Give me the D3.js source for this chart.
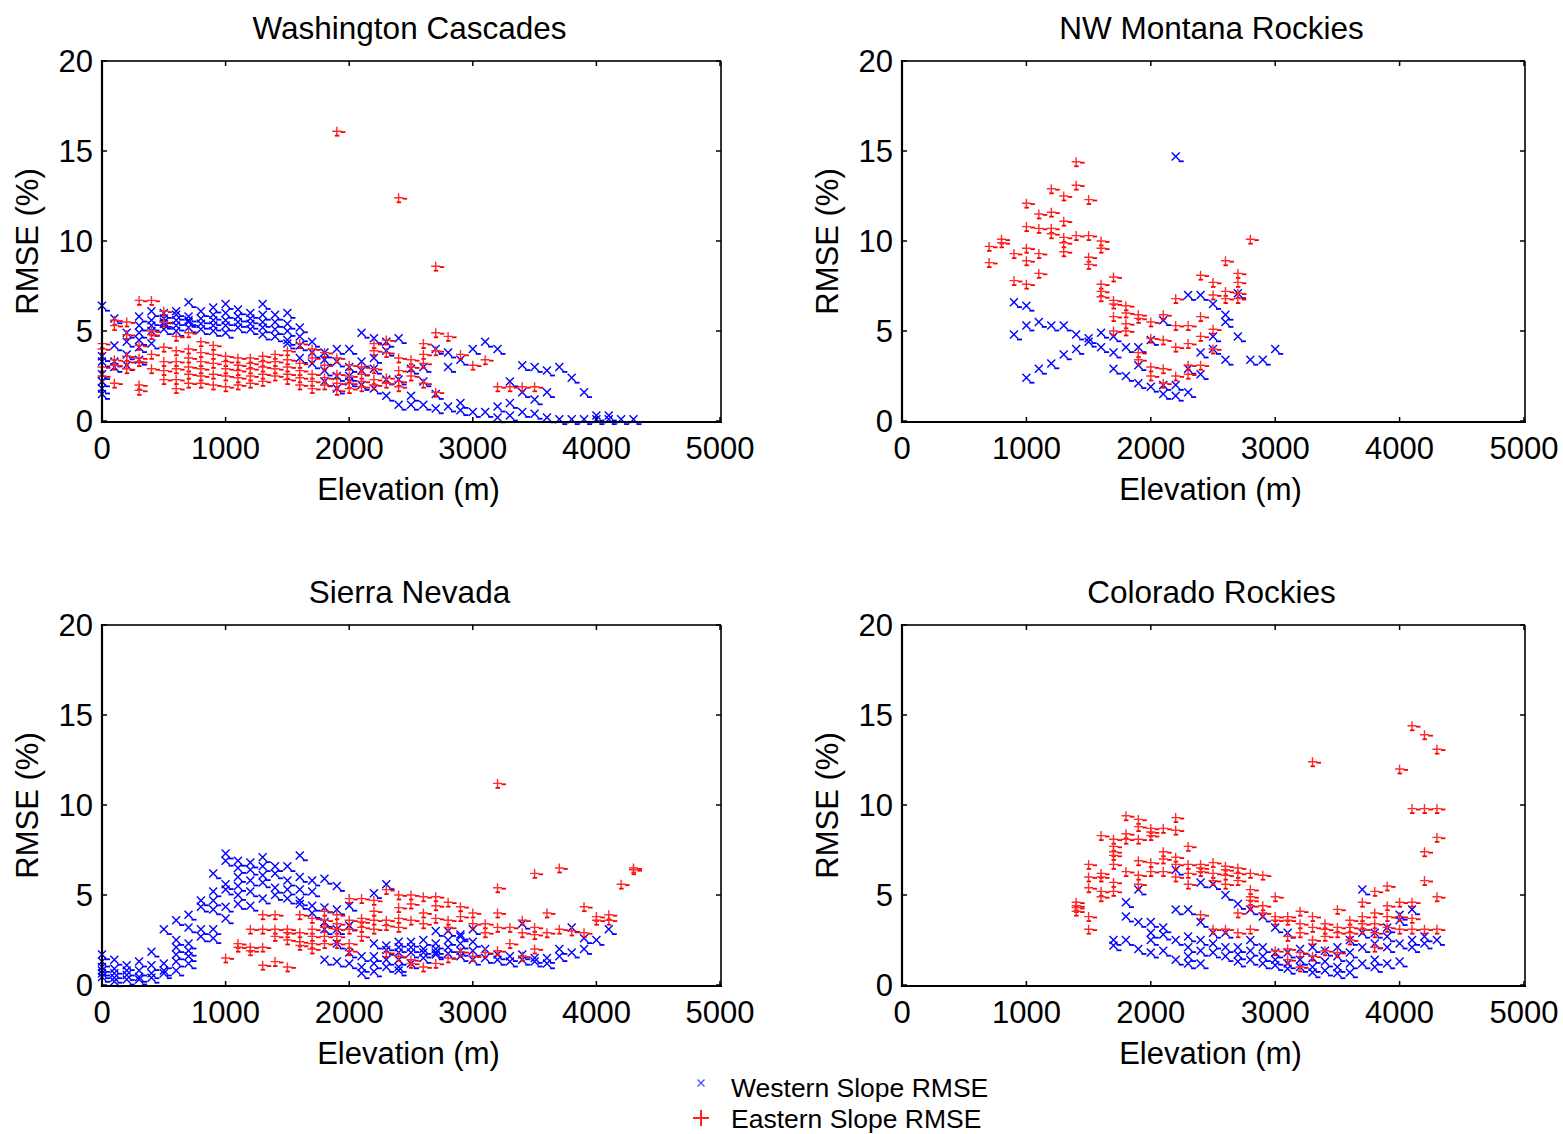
<!DOCTYPE html>
<html><head><meta charset="utf-8">
<script src="https://cdn.jsdelivr.net/npm/d3@7"></script>
<style>
body{margin:0;background:#fff}
svg{display:block}
text{font-family:"Liberation Sans",Arial,Helvetica,sans-serif;fill:#000}
</style>
</head><body>
<svg id="c" width="1563" height="1134"></svg>
<script>
// ---------- tick labels ----------
const xTicks = [0, 1000, 2000, 3000, 4000, 5000];
const yTicks = [0, 5, 10, 15, 20];
const panelTitles = ["Washington Cascades", "NW Montana Rockies", "Sierra Nevada", "Colorado Rockies"];
const seriesNames = ["Western Slope RMSE", "Eastern Slope RMSE"];
const xLabel = "Elevation (m)";
const yLabel = "RMSE (%)";

// ---------- data: [elevation (m), [RMSE values (%)]] ----------
const waWest = [
 [0,[6.4,3.6,3.3,2.6,2.2,1.8,1.5]],[100,[5.7,4.2,3.3,3.0]],[200,[4.9,4.4,3.7,3.1]],
 [300,[5.8,5.3,4.9,4.5,4.1,3.4]],[400,[6.1,5.6,5.3,5.0,4.3]],[500,[6.0,5.7,5.5,5.4,5.1]],
 [600,[6.1,5.9,5.6,5.3,5.0]],[700,[6.6,5.8,5.6,5.5,5.2]],[800,[6.1,5.7,5.4,5.1]],
 [900,[6.3,5.9,5.6,5.3,5.0]],[1000,[6.5,6.0,5.6,5.3,4.9]],[1100,[6.2,5.8,5.5,5.2]],
 [1200,[6.0,5.7,5.4,5.1]],[1300,[6.5,5.9,5.5,5.2,4.8]],[1400,[5.9,5.5,5.1,4.7]],
 [1500,[6.0,5.4,5.0,4.5,4.3]],[1600,[5.2,4.7,4.2,3.5]],[1700,[4.4,3.8,3.2]],
 [1800,[3.8,3.4,2.8,2.2]],[1900,[4.0,3.3,2.5,1.8]],[2000,[4.0,3.0,2.5,2.2]],
 [2100,[4.9,3.3,2.8,2.0]],[2200,[4.6,3.5,2.9,1.8]],[2300,[4.4,3.9,2.3,1.4]],
 [2400,[4.6,2.3,0.9]],[2500,[2.9,1.4,0.9]],[2600,[3.0,2.2,0.9]],[2700,[4.0,1.5,0.7]],
 [2800,[3.8,3.0,0.8]],[2900,[3.4,1.0,0.6]],[3000,[4.0,0.5]],[3100,[4.4,0.5]],
 [3200,[4.0,0.8,0.2]],[3300,[2.2,1.0,0.3]],[3400,[3.1,1.6,0.5]],[3500,[3.0,1.2,0.4]],
 [3600,[2.8,1.6,0.2]],[3700,[3.0,0.1]],[3800,[2.4,0.1]],[3900,[1.6,0.1]],
 [4000,[0.3,0.1]],[4100,[0.3,0.1]],[4200,[0.1]],[4300,[0.1]]
];
const waEast = [
 [0,[4.3,4.0,3.0,2.5]],[100,[5.6,5.3,3.4,3.1,2.1]],[200,[5.5,4.8,3.6,3.3,2.9]],
 [300,[6.7,4.2,3.5,3.3,2.0,1.7]],[400,[6.7,5.0,4.8,3.7,2.9]],[500,[6.1,5.5,4.1,3.3,2.8,2.3]],
 [600,[4.7,3.9,3.3,2.9,2.3,1.8]],[700,[4.9,4.0,3.5,3.0,2.6,2.1]],[800,[4.4,3.8,3.3,2.9,2.5,2.1]],
 [900,[4.2,3.7,3.2,2.6,2.0]],[1000,[3.6,3.3,2.9,2.5,1.9]],[1100,[3.5,3.1,2.8,2.4,2.0]],
 [1200,[3.5,3.2,2.9,2.5,2.1]],[1300,[3.6,3.3,3.0,2.6,2.2]],[1400,[3.7,3.3,2.9,2.5]],
 [1500,[3.9,3.4,3.0,2.6,2.3]],[1600,[4.3,3.2,2.8,2.4,2.0]],[1700,[4.0,3.5,2.6,2.2,1.8]],
 [1800,[3.8,3.1,2.4,2.0]],[1900,[16.1,3.5,2.6,2.1,1.7]],[2000,[3.1,2.5,2.1,1.8]],
 [2100,[3.0,2.6,2.2,1.9]],[2200,[4.3,3.9,2.9,2.3,2.0]],[2300,[4.5,3.8,2.4,2.1]],
 [2400,[12.4,3.5,2.8,2.2,1.9]],[2500,[3.4,3.0,2.5]],[2600,[4.3,3.7,3.2,2.1]],
 [2700,[8.6,4.9,3.9,1.6]],[2800,[4.7]],[2900,[3.7]],[3000,[3.1]],[3100,[3.4]],
 [3200,[1.9]],[3300,[1.9]],[3400,[1.9]],[3500,[1.9]]
];
const mtWest = [
 [900,[6.6,4.8]],[1000,[6.4,5.3,2.4]],[1100,[5.5,2.9]],[1200,[5.3,3.2]],[1300,[5.3,3.7]],
 [1400,[4.8,4.0]],[1500,[4.6,4.4]],[1600,[4.9,4.1]],[1700,[4.7,3.8,2.9]],[1800,[4.1,2.5]],
 [1900,[4.1,3.1,2.1]],[2000,[4.5,1.9]],[2100,[5.6,2.0,1.5]],[2200,[14.7,2.0,1.4]],
 [2300,[7.0,2.9,1.6]],[2400,[7.0,3.8,2.6]],[2500,[6.5,4.7,4.0]],[2600,[5.9,5.5,3.4]],
 [2700,[7.1,4.7]],[2800,[3.4]],[2900,[3.4]],[3000,[4.0]]
];
const mtEast = [
 [700,[9.7,8.8]],[800,[10.1,9.9]],[900,[9.3,7.8]],[1000,[12.1,10.8,9.6,8.9,7.6]],
 [1100,[11.5,10.7,9.3,8.2]],[1200,[12.9,11.6,10.7,10.4]],[1300,[12.5,11.1,10.2,9.9,9.4]],
 [1400,[14.4,13.1,10.3]],[1500,[12.3,10.3,9.1,8.7]],[1600,[10.0,9.6,7.6,7.2,6.9]],
 [1700,[8.0,6.7,6.5,5.8,5.0]],[1800,[6.4,6.0,5.4,5.0]],[1900,[5.9,5.7,3.8,3.4]],
 [2000,[5.5,4.6,3.0,2.5]],[2100,[5.9,4.5,2.9,2.1]],[2200,[6.8,5.3,4.1,2.5]],
 [2300,[5.3,4.3,3.1,2.6]],[2400,[8.1,5.8,4.7,3.1]],[2500,[7.7,7.0,5.1,4.0]],
 [2600,[8.9,7.2,6.8]],[2700,[8.2,7.7,7.1,6.8]],[2800,[10.1]]
];
const snWest = [
 [0,[1.7,1.3,1.0,0.8,0.65,0.45]],[100,[1.4,0.9,0.65,0.4,0.2]],[200,[1.1,0.8,0.55,0.3]],
 [300,[1.3,0.8,0.45,0.3]],[400,[1.85,1.1,0.65,0.4]],[500,[3.1,1.2,0.8,0.65]],
 [600,[3.6,2.5,2.1,1.7,1.3,0.8]],[700,[3.9,3.2,2.3,1.9,1.6,1.2]],[800,[4.7,4.35,3.1,2.7]],
 [900,[6.2,5.2,4.7,4.2,3.1,2.6]],[1000,[7.3,6.9,5.6,5.3,4.35,3.7]],[1100,[6.9,6.5,6.0,5.5,5.0,4.5]],
 [1200,[6.8,6.4,5.8,5.2,4.4]],[1300,[7.1,6.6,6.1,5.7,4.8]],[1400,[6.6,6.2,5.4,5.0]],
 [1500,[6.6,5.8,5.3,4.8]],[1600,[7.2,6.0,5.3,4.7,4.5]],[1700,[5.8,5.2,4.4,4.0]],
 [1800,[5.9,4.3,3.5,3.1,1.4]],[1900,[5.5,4.2,3.1,2.3,1.3]],[2000,[4.4,3.3,1.8,1.2]],
 [2100,[1.6,1.0,0.65]],[2200,[5.1,2.3,1.6,1.2,0.75]],[2300,[5.6,2.2,1.95,1.4,1.0]],
 [2400,[2.4,2.1,1.8,1.4,1.0,0.8]],[2500,[2.4,2.1,1.8,1.2]],[2600,[2.5,2.0,1.8,1.5]],
 [2700,[3.0,2.3,2.0,1.8,1.7]],[2800,[3.0,2.5,2.1,1.75]],[2900,[2.8,2.7,2.3,1.9,1.6]],
 [3000,[3.1,2.4,1.9,1.4]],[3100,[2.0,1.5]],[3200,[1.7,1.4]],[3300,[1.6,1.3]],
 [3400,[3.4,1.7,1.4]],[3500,[1.5,1.3]],[3600,[1.5,1.2]],[3700,[2.0,1.6]],
 [3800,[3.2,1.8]],[3900,[2.6,2.0]],[4000,[2.5]],[4100,[3.1]]
];
const snEast = [
 [1000,[1.5]],[1100,[2.3,2.1]],[1200,[3.1,2.1,1.9]],[1300,[3.9,3.1,2.1,1.1]],
 [1400,[3.9,3.1,2.7,1.3]],[1500,[3.1,2.9,2.5,1.0]],[1600,[3.9,2.9,2.4,2.2]],
 [1700,[3.7,3.1,2.7,2.3,2.0]],[1800,[4.1,3.6,3.2,2.7,2.3]],[1900,[3.9,3.4,3.1,2.7,2.3]],
 [2000,[4.8,3.6,3.1,2.3,1.9]],[2100,[4.8,3.7,3.5,3.2,2.7]],[2200,[4.7,4.1,3.6,3.1]],
 [2300,[5.3,3.6,3.3,1.8]],[2400,[5.0,4.3,3.7,3.2,1.6]],[2500,[5.0,4.5,3.6,1.4,1.2]],
 [2600,[4.9,4.0,3.4,1.0]],[2700,[4.9,4.4,3.7,1.2]],[2800,[4.6,3.6,3.2,1.5]],
 [2900,[4.35,3.8,1.85]],[3000,[4.0,3.4,1.6]],[3100,[3.4,2.9,1.8]],
 [3200,[11.2,5.4,4.0,3.2,1.9]],[3300,[3.2,2.3]],[3400,[3.6,2.9,1.6]],
 [3500,[6.2,3.2,2.8,2.0]],[3600,[4.0,2.9]],[3700,[6.5,3.1]],[3800,[3.0]],
 [3900,[4.35,2.9]],[4000,[3.8,3.6]],[4100,[3.9,3.6]],[4200,[5.6]],[4300,[6.5,6.4]]
];
const coWest = [
 [1700,[2.5,2.2]],[1800,[4.6,3.8,2.5]],[1900,[5.3,3.5,2.0]],[2000,[3.5,2.9,2.5,1.8]],
 [2100,[3.2,2.8,1.9]],[2200,[6.4,4.2,2.5,1.4]],[2300,[4.2,2.7,2.1,1.6,1.2]],
 [2400,[5.7,3.5,2.5,1.9,1.2]],[2500,[5.6,2.9,2.3,1.8]],[2600,[5.0,2.9,2.1,1.6]],
 [2700,[4.5,2.1,1.7,1.3]],[2800,[4.2,2.5,1.9,1.4]],[2900,[3.8,2.1,1.6,1.2]],
 [3000,[3.2,1.8,1.4,1.1]],[3100,[2.9,1.8,1.2,0.9]],[3200,[2.0,1.4,1.0]],
 [3300,[2.1,1.5,1.0,0.7]],[3400,[1.9,1.3,0.8]],[3500,[2.1,1.6,1.0,0.65]],
 [3600,[2.5,1.8,1.2,0.7]],[3700,[5.3,2.9,2.1,1.2]],[3800,[2.9,2.3,1.4,1.0]],
 [3900,[3.2,2.7,2.1,1.2]],[4000,[3.9,3.6,2.3,1.3]],[4100,[4.2,2.5,2.1]],
 [4200,[2.7,2.3]],[4300,[2.5]]
];
const coEast = [
 [1400,[4.6,4.4,4.3,4.1]],[1500,[6.7,6.0,5.4,3.8,3.1]],[1600,[8.3,6.2,6.0,5.2,4.9]],
 [1700,[8.1,7.7,7.4,7.2,6.7,5.7,5.2]],[1800,[9.4,8.4,8.1,6.3]],[1900,[9.2,8.8,8.1,6.9,6.1,5.6]],
 [2000,[8.7,8.5,8.3,6.8,6.3]],[2100,[8.7,7.4,7.0,6.3]],[2200,[9.3,8.6,7.1,6.7,6.0]],
 [2300,[7.7,6.7,6.2,5.6]],[2400,[6.7,6.5,6.3,3.9]],[2500,[6.8,6.2,5.8,3.1]],
 [2600,[6.6,6.4,6.1,5.6,3.1]],[2700,[6.5,6.2,5.8,4.0,2.9]],[2800,[6.2,5.3,4.9,4.7,4.4,3.1]],
 [2900,[6.1,4.4,4.0]],[3000,[4.9,3.8,3.6,1.9]],[3100,[3.8,3.6,2.7,2.0,1.4]],
 [3200,[4.1,3.4,2.9,1.8,1.0]],[3300,[12.4,3.8,3.2,2.5,1.6]],[3400,[3.4,3.1,2.7,1.9]],
 [3500,[4.2,3.2,2.9,1.8]],[3600,[3.6,3.2,2.9,2.5]],[3700,[4.6,3.8,3.4,3.1]],
 [3800,[5.2,4.0,3.4,2.9,2.1]],[3900,[5.5,4.4,3.8,3.2]],[4000,[12.0,4.6,3.8,3.1]],
 [4100,[14.4,9.8,4.6,3.7,3.1]],[4200,[13.9,9.8,7.4,5.8,3.1]],[4300,[13.1,9.8,8.2,4.9,3.1]]
];

// ---------- layout ----------
const panels = [
 {title: panelTitles[0], west: waWest, east: waEast, xr: [102, 720], yr: [421, 61]},
 {title: panelTitles[1], west: mtWest, east: mtEast, xr: [902, 1524], yr: [421, 61]},
 {title: panelTitles[2], west: snWest, east: snEast, xr: [102, 720], yr: [985, 625]},
 {title: panelTitles[3], west: coWest, east: coEast, xr: [902, 1524], yr: [985, 625]}
];
const BLUE = "#0000ff", RED = "#ff0000";
const FS = 31;

const flat = cols => cols.flatMap(([e, vs]) => vs.map(v => ({e, v})));
const svg = d3.select("#c");

function drawWest(sel) {
  sel.append("path").attr("d", "M-4,-4L4,4M-4,4L4,-4")
     .attr("stroke", BLUE).attr("stroke-width", 1.4).attr("fill", "none");
  sel.append("rect").attr("x", 3).attr("y", 4).attr("width", 5).attr("height", 1.8).attr("fill", BLUE);
}
function drawEast(sel) {
  sel.append("path").attr("d", "M-4.5,0H4.5M0,-4.5V4.5")
     .attr("stroke", "#ff2a2a").attr("stroke-width", 1.4).attr("fill", "none");
  sel.append("rect").attr("x", 4).attr("y", 0).attr("width", 4.5).attr("height", 1.8).attr("fill", RED);
  sel.append("rect").attr("x", -2).attr("y", 3.6).attr("width", 4.5).attr("height", 1.8).attr("fill", RED);
}

panels.forEach(p => {
  const x = d3.scaleLinear().domain([0, 5000]).range(p.xr);
  const y = d3.scaleLinear().domain([0, 20]).range(p.yr);
  const g = svg.append("g");
  const L = p.xr[0], R = p.xr[1] + 1, T = p.yr[1], B = p.yr[0] + 1;

  // points
  const pts = g.append("g");
  pts.selectAll("g.w").data(flat(p.west)).join("g").attr("class", "w")
     .attr("transform", d => `translate(${x(d.e)},${y(d.v)})`).each(function(){ drawWest(d3.select(this)); });
  pts.selectAll("g.e").data(flat(p.east)).join("g").attr("class", "e")
     .attr("transform", d => `translate(${x(d.e)},${y(d.v)})`).each(function(){ drawEast(d3.select(this)); });

  // box
  g.append("line").attr("x1", L).attr("x2", R).attr("y1", T).attr("y2", T).attr("stroke", "#333").attr("stroke-width", 2);
  g.append("line").attr("x1", R).attr("x2", R).attr("y1", T).attr("y2", B).attr("stroke", "#333").attr("stroke-width", 2);
  g.append("line").attr("x1", L).attr("x2", L).attr("y1", T - 1).attr("y2", B + 1).attr("stroke", "#000").attr("stroke-width", 2.2);
  g.append("line").attr("x1", L - 1).attr("x2", R + 1).attr("y1", B).attr("y2", B).attr("stroke", "#000").attr("stroke-width", 2.2);

  // ticks (inward)
  const TL = 5;
  xTicks.forEach(t => {
    g.append("line").attr("x1", x(t)).attr("x2", x(t)).attr("y1", B).attr("y2", B - TL).attr("stroke", "#000").attr("stroke-width", 1.5);
    g.append("line").attr("x1", x(t)).attr("x2", x(t)).attr("y1", T).attr("y2", T + TL).attr("stroke", "#000").attr("stroke-width", 1.5);
    g.append("text").attr("x", x(t)).attr("y", B + 37).attr("text-anchor", "middle")
     .attr("font-size", FS).text(t);
  });
  yTicks.forEach(t => {
    g.append("line").attr("x1", L).attr("x2", L + TL).attr("y1", y(t)).attr("y2", y(t)).attr("stroke", "#000").attr("stroke-width", 1.5);
    g.append("line").attr("x1", R).attr("x2", R - TL).attr("y1", y(t)).attr("y2", y(t)).attr("stroke", "#000").attr("stroke-width", 1.5);
    g.append("text").attr("x", L - 9).attr("y", y(t) + 11).attr("text-anchor", "end")
     .attr("font-size", FS).text(t);
  });

  // titles and axis labels
  const cx = (L + R) / 2, cy = (T + B) / 2;
  g.append("text").attr("x", cx - 2).attr("y", T - 22).attr("text-anchor", "middle").attr("font-size", 31.5).text(p.title);
  g.append("text").attr("x", cx - 3).attr("y", B + 78).attr("text-anchor", "middle").attr("font-size", FS).text(xLabel);
  g.append("text").attr("transform", `translate(${L - 64},${cy}) rotate(-90)`).attr("text-anchor", "middle")
   .attr("font-size", FS).text(yLabel);
});

// legend
const lg = svg.append("g");
lg.append("path").attr("d", "M-3.5,-3.5L3.5,3.5M-3.5,3.5L3.5,-3.5").attr("transform", "translate(701,1083)")
  .attr("stroke", "#5050ff").attr("stroke-width", 1.4).attr("fill", "none");
lg.append("path").attr("d", "M-8,0H8M0,-8V8").attr("transform", "translate(701,1118)")
  .attr("stroke", "#ff2020").attr("stroke-width", 2).attr("fill", "none");
lg.append("text").attr("x", 731).attr("y", 1097).attr("font-size", 26.5).text(seriesNames[0]);
lg.append("text").attr("x", 731).attr("y", 1128).attr("font-size", 26.5).text(seriesNames[1]);
</script>
</body></html>
